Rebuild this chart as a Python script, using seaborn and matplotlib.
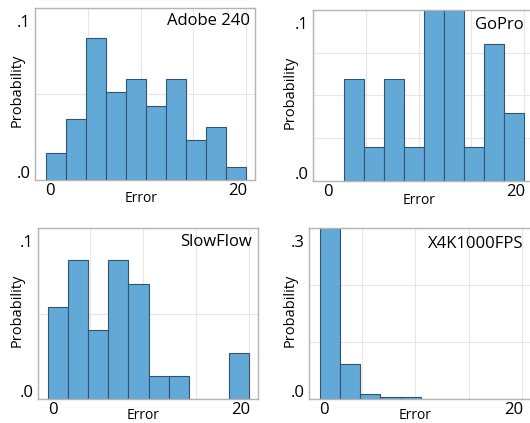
import numpy as np
import pandas as pd
import matplotlib
matplotlib.use("Agg")
import matplotlib.pyplot as plt
import seaborn as sns
from matplotlib.transforms import ScaledTranslation

# ---------------- data ----------------
bin_start, bin_end, n_bins = 1.0, 20.0, 10
panel_names = ["Adobe 240", "GoPro", "SlowFlow", "X4K1000FPS"]
adobe_prob = [0.0156, 0.0354, 0.0827, 0.0512, 0.0590, 0.0432, 0.0590, 0.0233, 0.0311, 0.0074]
gopro_prob = [0.0, 0.0596, 0.0201, 0.0596, 0.0201, 0.100, 0.100, 0.0201, 0.0799, 0.0396]
slowflow_prob = [0.0539, 0.0811, 0.0405, 0.0811, 0.0675, 0.0136, 0.0136, 0.0, 0.0, 0.0268]
x4k_prob = [0.300, 0.0613, 0.0093, 0.0040, 0.0040, 0.0, 0.0, 0.0, 0.0, 0.0]
x_ticks = [0, 5, 10, 15, 20]
x_tick_labels = ["0", "", "", "", "20"]
y_ticks_list = [[0, 0.05, 0.1], [0, 0.025, 0.05, 0.075, 0.1], [0, 0.05, 0.1], [0, 0.1, 0.2, 0.3]]
y_tick_labels_list = [[".0", "", ".1"], [".0", "", "", "", ".1"], [".0", "", ".1"], [".0", "", "", ".3"]]
x_label = "Error"
y_label = "Probability"

probs_all = [adobe_prob, gopro_prob, slowflow_prob, x4k_prob]

# ---------------- style ----------------
sns.set_theme(style="white")
plt.rcParams["font.family"] = ["Open Sans", "DejaVu Sans"]

W, H = 530, 423
fig = plt.figure(figsize=(W / 100, H / 100), dpi=100)

# axes boxes in pixels: left, top, width, height
boxes = [(35, 8, 220, 172), (313, 10, 220, 171), (37.5, 228, 220.5, 171), (309, 228, 222, 171)]
title_offsets = [(5, 13), (9, 15), (6, 14), (8, 16)]
ylabel_dx = [18, 23, 20.5, 19]
xlabel_dy = [19, 19, 16, 16]

bar_color = "#62a9d8"
edge_color = "#33536d"
spine_color = "#b4b4b4"
grid_color = "#e6e6e6"

px = 0.72  # points per pixel at 100 dpi

edges = np.linspace(bin_start, bin_end, n_bins + 1)
centers = (edges[:-1] + edges[1:]) / 2

for i, (name, probs) in enumerate(zip(panel_names, probs_all)):
    l, t, w, h = boxes[i]
    ax = fig.add_axes([l / W, 1 - (t + h) / H, w / W, h / H])
    df = pd.DataFrame({"err": centers, "p": probs})
    sns.histplot(data=df, x="err", weights="p", bins=n_bins, binrange=(bin_start, bin_end), ax=ax,
                 color=bar_color, edgecolor=edge_color, linewidth=0.8, alpha=1.0)
    for patch in ax.patches:
        if patch.get_height() <= 0:
            patch.set_visible(False)

    yt = y_ticks_list[i]
    ax.set_xlim(0, 20.85)
    ax.set_ylim(0, yt[-1])
    ax.set_xticks(x_ticks)
    ax.set_xticklabels(x_tick_labels)
    ax.set_yticks(yt)
    ax.set_yticklabels(y_tick_labels_list[i])
    ax.grid(True, color=grid_color, linewidth=0.8)
    ax.set_axisbelow(True)
    ax.tick_params(axis="both", length=0, labelsize=12, colors="black")
    ax.tick_params(axis="x", pad=2)
    ax.tick_params(axis="y", pad=3)
    for sp in ax.spines.values():
        sp.set_color(spine_color)
        sp.set_linewidth(1.0)

    # pull the end tick labels inward
    xl = ax.get_xticklabels()
    xl[0].set_transform(xl[0].get_transform() + ScaledTranslation(15 / 100, 0, fig.dpi_scale_trans))
    xl[-1].set_transform(xl[-1].get_transform() + ScaledTranslation(-8 / 100, 0, fig.dpi_scale_trans))
    yl = ax.get_yticklabels()
    yl[0].set_transform(yl[0].get_transform() + ScaledTranslation(0, 8 / 100, fig.dpi_scale_trans))
    yl[-1].set_transform(yl[-1].get_transform() + ScaledTranslation(0, -13 / 100, fig.dpi_scale_trans))

    ax.set_xlabel(x_label, fontsize=10, color="black")
    ax.xaxis.set_label_coords(0.48, -xlabel_dy[i] / h)
    ax.xaxis.label.set_va("center")
    ax.set_ylabel(y_label, fontsize=10.5, color="black")
    ax.yaxis.set_label_coords(-ylabel_dx[i] / w, 0.52)
    ax.yaxis.label.set_va("center")

    dx, dy = title_offsets[i]
    ax.annotate(name, xy=(1, 1), xycoords="axes fraction",
                xytext=(-dx * px, -dy * px), textcoords="offset points",
                ha="right", va="center", fontsize=12, color="black")

fig.savefig("out.png", dpi=100)
